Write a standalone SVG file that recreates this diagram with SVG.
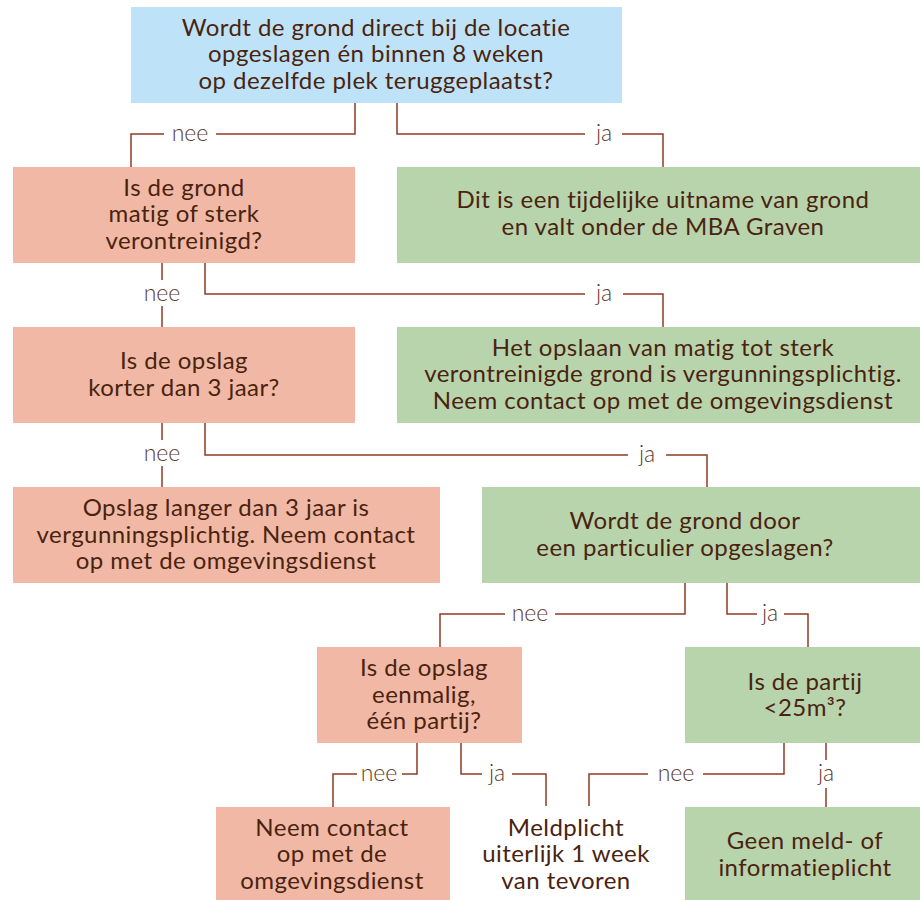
<svg xmlns="http://www.w3.org/2000/svg" width="920" height="900" viewBox="0 0 920 900">
<style>
.blue{fill:#BEE3F8}
.pink{fill:#F1B9A5}
.green{fill:#B8D4AD}
.t{font-family:Lato,"Liberation Sans",sans-serif;font-size:24px;letter-spacing:0.45px;fill:#4A2310;text-anchor:middle}
.lbl{font-family:Lato,"Liberation Sans",sans-serif;font-size:23px;font-weight:300;fill:#5C3A2B;text-anchor:middle}
.c{fill:none;stroke:#8E3B24;stroke-width:1.5}
</style>
<rect width="920" height="900" fill="#fff"/>
<g id="connectors">
<path class="c" d="M355,103V134H216M164,134H131V167"/>
<path class="c" d="M397,103V134H585M622,134H663V167"/>
<path class="c" d="M162,263V280M162,306V327"/>
<path class="c" d="M205,263V294H585M623,294H663V327"/>
<path class="c" d="M162,423V440M162,466V487"/>
<path class="c" d="M205,423V455H628M666,455H707V487"/>
<path class="c" d="M685,583V614H555M505,614H440V647"/>
<path class="c" d="M727,583V614H757M784,614H808V647"/>
<path class="c" d="M417,743V774H402M357,774H333V807"/>
<path class="c" d="M461,743V774H482M512,774H546V806"/>
<path class="c" d="M784,743V774H703M648,774H589V806"/>
<path class="c" d="M826,743V760M826,788V807"/>
<text class="lbl" x="190" y="141">nee</text>
<text class="lbl" x="604" y="141">ja</text>
<text class="lbl" x="162" y="301">nee</text>
<text class="lbl" x="604" y="301">ja</text>
<text class="lbl" x="162" y="461">nee</text>
<text class="lbl" x="647" y="462">ja</text>
<text class="lbl" x="530" y="621">nee</text>
<text class="lbl" x="770" y="621">ja</text>
<text class="lbl" x="379" y="781">nee</text>
<text class="lbl" x="497" y="781">ja</text>
<text class="lbl" x="676" y="781">nee</text>
<text class="lbl" x="826" y="781">ja</text>
</g>
<g id="q1"><rect class="blue" x="131" y="7" width="491" height="96"/>
<text class="t" x="376" y="36">Wordt de grond direct bij de locatie</text>
<text class="t" x="376" y="62">opgeslagen én binnen 8 weken</text>
<text class="t" x="376" y="89">op dezelfde plek teruggeplaatst?</text></g>
<g id="q2"><rect class="pink" x="13" y="167" width="342" height="96"/>
<text class="t" x="184" y="196">Is de grond</text>
<text class="t" x="184" y="222">matig of sterk</text>
<text class="t" x="184" y="249">verontreinigd?</text></g>
<g id="r1"><rect class="green" x="397" y="167" width="523" height="96"/>
<text class="t" x="663" y="208">Dit is een tijdelijke uitname van grond</text>
<text class="t" x="663" y="235">en valt onder de MBA Graven</text></g>
<g id="q3"><rect class="pink" x="13" y="327" width="342" height="96"/>
<text class="t" x="184" y="369">Is de opslag</text>
<text class="t" x="184" y="396">korter dan 3 jaar?</text></g>
<g id="r2"><rect class="green" x="397" y="327" width="523" height="96"/>
<text class="t" x="663" y="356">Het opslaan van matig tot sterk</text>
<text class="t" x="663" y="382">verontreinigde grond is vergunningsplichtig.</text>
<text class="t" x="663" y="409">Neem contact op met de omgevingsdienst</text></g>
<g id="r3"><rect class="pink" x="13" y="487" width="427" height="96"/>
<text class="t" x="226" y="516">Opslag langer dan 3 jaar is</text>
<text class="t" x="226" y="543">vergunningsplichtig. Neem contact</text>
<text class="t" x="226" y="569">op met de omgevingsdienst</text></g>
<g id="q4"><rect class="green" x="482" y="487" width="438" height="96"/>
<text class="t" x="685" y="529">Wordt de grond door</text>
<text class="t" x="685" y="556">een particulier opgeslagen?</text></g>
<g id="q5"><rect class="pink" x="317" y="647" width="205" height="96"/>
<text class="t" x="424" y="676">Is de opslag</text>
<text class="t" x="424" y="703">eenmalig,</text>
<text class="t" x="424" y="729">één partij?</text></g>
<g id="q6"><rect class="green" x="685" y="647" width="235" height="96"/>
<text class="t" x="805" y="690">Is de partij</text>
<text class="t" x="805" y="716">&lt;25m³?</text></g>
<g id="r4"><rect class="pink" x="216" y="807" width="234" height="93"/>
<text class="t" x="332" y="836">Neem contact</text>
<text class="t" x="332" y="862">op met de</text>
<text class="t" x="332" y="889">omgevingsdienst</text></g>
<g id="r5">
<text class="t" x="566" y="836">Meldplicht</text>
<text class="t" x="566" y="862">uiterlijk 1 week</text>
<text class="t" x="566" y="889">van tevoren</text></g>
<g id="r6"><rect class="green" x="685" y="807" width="235" height="93"/>
<text class="t" x="805" y="849">Geen meld- of</text>
<text class="t" x="805" y="876">informatieplicht</text></g>
</svg>
